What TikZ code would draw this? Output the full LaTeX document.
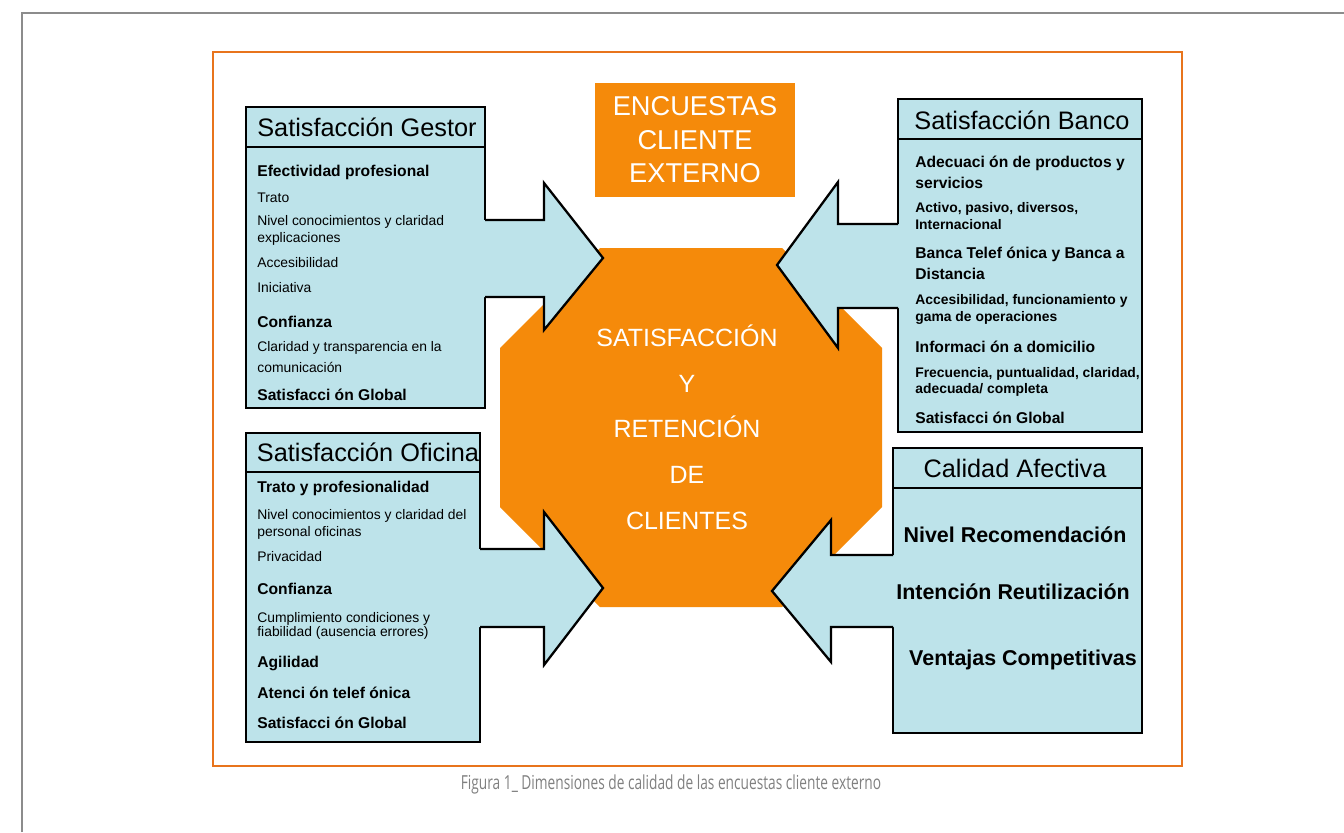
\documentclass[tikz,border=0pt]{standalone}
\usepackage{fontspec}
\setmainfont{Liberation Sans}
\newfontfamily\capfont{Open Sans}
\definecolor{panelblue}{HTML}{BDE3EA}
\definecolor{huborange}{HTML}{F58A0A}
\definecolor{frameorange}{HTML}{E8741C}
\tikzset{every node/.style={inner sep=0pt},
  panel/.style={draw=black,line width=1.2pt,fill=panelblue},
  arrowline/.style={draw=black,line width=1.3pt},
  ttl/.style={font=\fontsize{14.4}{17}\selectfont},
  head/.style={anchor=west,font=\bfseries\fontsize{8.9}{10}\selectfont},
  item/.style={anchor=west,font=\fontsize{7.9}{9}\selectfont},
  itemb/.style={anchor=west,font=\bfseries\fontsize{7.9}{9}\selectfont},
  big/.style={font=\bfseries\fontsize{12.2}{14}\selectfont}}

\begin{document}
\begin{tikzpicture}[x=0.02cm,y=-0.02cm]
    \useasboundingbox (0,0) rectangle (1344,832);
    \draw[gray!90,line width=1.4pt] (22,832) -- (22,13) -- (1344,13);
    \draw[frameorange,line width=1.6pt,fill=white] (213,52) rectangle (1182,766);
    % hub
    \fill[huborange] (600,248) -- (782,248) -- (882,348) -- (882,507) -- (782,607) -- (600,607) -- (500,507) -- (500,348) -- cycle;
    \node[text=white,align=center,font=\fontsize{14.2}{26}\selectfont] (hub) at (687,427) {SATISFACCIÓN\\Y\\RETENCIÓN\\DE\\CLIENTES};
    \node[fill=huborange,minimum width=4cm,minimum height=2.28cm,text=white,align=center,font=\fontsize{15.5}{19}\selectfont] (survey) at (695,140) {ENCUESTAS\\CLIENTE\\EXTERNO};
    % panels
    \draw[panel] (246,107) rectangle (485,408);
    \draw[line width=1.2pt] (246,147) -- (485,147);
    \draw[panel] (898,99) rectangle (1142,432);
    \draw[line width=1.2pt] (898,139) -- (1142,139);
    \draw[panel] (246,433) rectangle (480,742);
    \draw[line width=1.2pt] (246,472) -- (480,472);
    \draw[panel] (893,448) rectangle (1142,733);
    \draw[line width=1.2pt] (893,488) -- (1142,488);
    % block arrows
    \fill[panelblue] (478,220) -- (544,220) -- (544,183) -- (603,258) -- (544,330) -- (544,297) -- (478,297) -- cycle;
    \draw[arrowline] (485,220) -- (544,220) -- (544,183) -- (603,258) -- (544,330) -- (544,297) -- (485,297);
    \fill[panelblue] (905,224) -- (838,224) -- (838,182) -- (777,265) -- (838,348) -- (838,308) -- (905,308) -- cycle;
    \draw[arrowline] (898,224) -- (838,224) -- (838,182) -- (777,265) -- (838,348) -- (838,308) -- (898,308);
    \fill[panelblue] (473,549) -- (544,549) -- (544,512) -- (603,588) -- (544,665) -- (544,627) -- (473,627) -- cycle;
    \draw[arrowline] (480,549) -- (544,549) -- (544,512) -- (603,588) -- (544,665) -- (544,627) -- (480,627);
    \fill[panelblue] (900,555) -- (831,555) -- (831,520) -- (772,591) -- (831,662) -- (831,627) -- (900,627) -- cycle;
    \draw[arrowline] (893,555) -- (831,555) -- (831,520) -- (772,591) -- (831,662) -- (831,627) -- (893,627);
    % titles
    \node[ttl] (gestor) at (367,127) {Satisfacción Gestor};
    \node[ttl] (banco) at (1022,120) {Satisfacción Banco};
    \node[ttl] (oficina) at (368,452) {Satisfacción Oficina};
    \node[ttl] (afectiva) at (1015,468) {Calidad Afectiva};
    % items
    \foreach \y/\s/\t [count=\i] in {172/head/Efectividad profesional, 198/item/Trato,
      222/item/Nivel conocimientos y claridad, 239/item/explicaciones, 263/item/Accesibilidad,
      288/item/Iniciativa, 322/head/Confianza, 348/item/Claridad y transparencia en la,
      367/item/comunicación, 395/head/Satisfacci ón Global}
      \node[\s] (g\i) at (257,\y) {\t};
    \foreach \y/\s/\t [count=\i] in {163/head/Adecuaci ón de productos y, 183/head/servicios,
      209/itemb/{Activo, pasivo, diversos,}, 225/itemb/Internacional,
      254/head/Banca Telef ónica y Banca a, 274/head/Distancia,
      301/itemb/{Accesibilidad, funcionamiento y}, 318/itemb/gama de operaciones,
      347/head/Informaci ón a domicilio, 374/itemb/{Frecuencia, puntualidad, claridad,},
      390/itemb/{adecuada/ completa}, 418/head/Satisfacci ón Global}
      \node[\s] (b\i) at (915,\y) {\t};
    \foreach \y/\s/\t [count=\i] in {488/head/Trato y profesionalidad,
      516/item/Nivel conocimientos y claridad del, 533/item/personal oficinas,
      557/item/Privacidad, 589/head/Confianza, 619/item/Cumplimiento condiciones y,
      633/item/fiabilidad (ausencia errores), 663/head/Agilidad,
      693/head/Atenci ón telef ónica, 723/head/Satisfacci ón Global}
      \node[\s] (o\i) at (257,\y) {\t};
    \node[big] (a1) at (1015,535) {Nivel Recomendación};
    \node[big] (a2) at (1013,592) {Intención Reutilización};
    \node[big] (a3) at (1023,660) {Ventajas Competitivas};
    % caption
    \node[text=gray,font=\capfont\fontsize{11}{13}\selectfont] (caption) at (671,784) {\scalebox{0.71}[1]{Figura 1\_ Dimensiones de calidad de las encuestas cliente externo}};
\end{tikzpicture}
\end{document}
